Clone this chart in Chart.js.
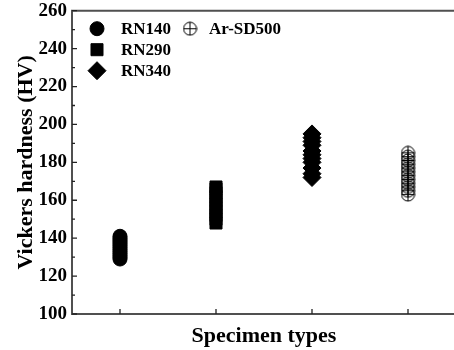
<!DOCTYPE html>
<html>
<head>
<meta charset="utf-8">
<script src="https://cdn.jsdelivr.net/npm/chart.js@4"></script>
<style>
  html, body { margin: 0; padding: 0; background: #fff; overflow: hidden; }
  #wrap { width: 470px; height: 350px; }
</style>
</head>
<body>
<div id="wrap"><canvas id="myChart" width="470" height="350"></canvas></div>
<script>
// specimen categories (x positions 1..4)
const categories = ['RN140', 'RN290', 'RN340', 'Ar-SD500']
// hardness readings per specimen (HV)
const rn140 = [129, 130, 131, 132, 133, 134, 135, 136, 137, 138, 139, 140, 141]
const rn290 = [148, 150, 152, 154, 156, 158, 160, 162, 164, 166, 167]
const rn340 = [172, 174, 177, 180, 182, 184, 186, 189, 191, 193, 195]
const arSD500 = [163, 165, 167, 169, 171, 173, 175, 177, 179, 181, 183, 185]
const yTicks = [100, 120, 140, 160, 180, 200, 220, 240, 260]

const serif = "'Liberation Serif', 'Times New Roman', serif"

// open circle with a cross, like the Ar-SD500 marker
function crossCircle(r) {
    const c = document.createElement('canvas')
    const s = r * 2 + 2
    c.width = s; c.height = s
    const g = c.getContext('2d')
    g.strokeStyle = '#000'
    g.lineWidth = 1
    g.beginPath()
    g.arc(s / 2, s / 2, r, 0, Math.PI * 2)
    g.moveTo(1, s / 2); g.lineTo(s - 1, s / 2)
    g.moveTo(s / 2, 1); g.lineTo(s / 2, s - 1)
    g.stroke()
    return c
}
const plusCircle = crossCircle(6.5)

function toPoints(xPos, vals) {
    return vals.map(function(v) { return { x: xPos, y: v } })
}

const seriesStyles = [
    { pointStyle: 'circle', pointRadius: 7, backgroundColor: '#000', borderColor: '#000' },
    { pointStyle: 'rect', pointRadius: 8.5, backgroundColor: '#000', borderColor: '#000' },
    { pointStyle: 'rectRot', pointRadius: 9, backgroundColor: '#000', borderColor: '#000' },
    { pointStyle: plusCircle, pointRadius: 7, backgroundColor: 'transparent', borderColor: '#000' }
]
const seriesValues = [rn140, rn290, rn340, arSD500]

const datasets = categories.map(function(name, i) {
    return Object.assign({
        label: name,
        data: toPoints(i + 1, seriesValues[i]),
        borderWidth: 1,
        showLine: false
    }, seriesStyles[i])
})

// frame + inward ticks
const framePlugin = {
    id: 'frame',
    afterDatasetsDraw(chart) {
        const ctx = chart.ctx
        const a = chart.chartArea
        const xs = chart.scales.x
        const ys = chart.scales.y
        ctx.save()
        ctx.strokeStyle = '#505050'
        ctx.lineWidth = 2
        ctx.beginPath()
        ctx.rect(a.left, a.top, a.right - a.left, a.bottom - a.top)
        ctx.stroke()
        ctx.strokeStyle = '#222'
        ctx.lineWidth = 1.3
        ctx.beginPath()
        for (let v = 100; v <= 260; v += 10) {
            const y = ys.getPixelForValue(v)
            const len = v % 20 === 0 ? 5 : 3
            ctx.moveTo(a.left, y); ctx.lineTo(a.left + len, y)
        }
        for (let k = 1; k <= 4; k++) {
            const x = xs.getPixelForValue(k)
            ctx.moveTo(x, a.bottom); ctx.lineTo(x, a.bottom - 5)
        }
        ctx.stroke()
        ctx.restore()
    }
}

// legend drawn inside the plot area, top-left
const legendSpots = [
    { dx: 25, dy: 18, tx: 24 },
    { dx: 25, dy: 39, tx: 24 },
    { dx: 25, dy: 60, tx: 24 },
    { dx: 118, dy: 18, tx: 19 }
]
const insideLegend = {
    id: 'insideLegend',
    afterDraw(chart) {
        const ctx = chart.ctx
        const a = chart.chartArea
        ctx.save()
        ctx.font = 'bold 17px ' + serif
        ctx.textBaseline = 'middle'
        chart.data.datasets.forEach(function(ds, i) {
            const p = legendSpots[i]
            const x = a.left + p.dx, y = a.top + p.dy
            ctx.fillStyle = ds.backgroundColor
            ctx.strokeStyle = '#000'
            ctx.lineWidth = 1
            Chart.helpers.drawPoint(ctx, {
                pointStyle: ds.pointStyle,
                radius: ds.pointRadius,
                borderWidth: 1,
                rotation: 0
            }, x, y)
            ctx.fillStyle = '#000'
            ctx.fillText(ds.label, x + p.tx, y + 1)
        })
        ctx.restore()
    }
}

const ctx = document.getElementById('myChart').getContext('2d')
const myChart = new Chart(ctx, {
    type: 'scatter',
    data: { datasets: datasets },
    options: {
        animation: false,
        responsive: false,
        layout: { padding: { top: 8, right: 14, left: 0, bottom: 0 } },
        plugins: {
            legend: { display: false },
            tooltip: { enabled: false }
        },
        scales: {
            x: {
                type: 'linear',
                min: 0.5,
                max: 4.5,
                grid: { display: false, drawTicks: false },
                border: { display: false },
                ticks: { display: false, stepSize: 1 },
                title: {
                    display: true,
                    text: 'Specimen types',
                    color: '#000',
                    font: { family: serif, size: 22, weight: 'bold' },
                    padding: { top: 6, bottom: 0 }
                },
                afterFit(scale) { scale.height = 36 }
            },
            y: {
                min: 100,
                max: 260,
                afterBuildTicks(scale) {
                    scale.ticks = yTicks.map(function(v) { return { value: v } })
                },
                grid: { display: false, drawTicks: false },
                border: { display: false },
                ticks: {
                    color: '#000',
                    padding: 5,
                    font: { family: serif, size: 19, weight: 'bold', lineHeight: 0.6 }
                },
                title: {
                    display: true,
                    text: 'Vickers hardness (HV)',
                    color: '#000',
                    font: { family: serif, size: 22, weight: 'bold' },
                    padding: { top: 13, bottom: 2 }
                },
                afterFit(scale) { scale.width = 72 }
            }
        }
    },
    plugins: [framePlugin, insideLegend]
})
</script>
</body>
</html>
